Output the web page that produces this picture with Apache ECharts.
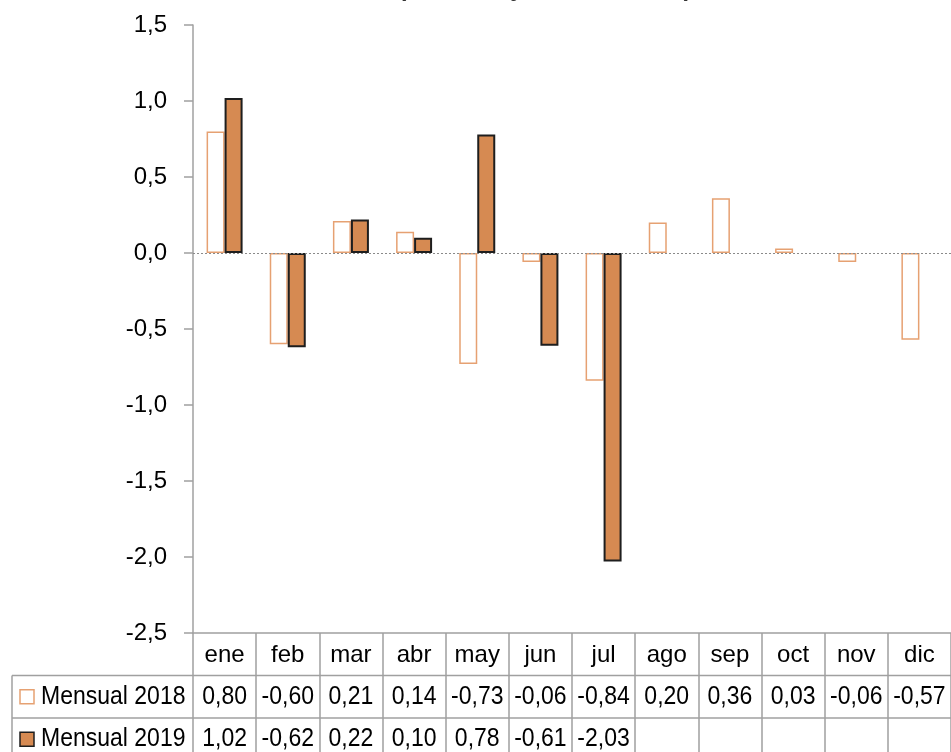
<!DOCTYPE html>
<html>
<head>
<meta charset="utf-8">
<script src="https://cdn.jsdelivr.net/npm/echarts@6/dist/echarts.min.js"></script>
<style>
  html, body { margin: 0; padding: 0; background: #fff; }
  #chart { width: 951px; height: 752px; }
</style>
</head>
<body>
<div id="chart"></div>
<script>
// Monthly variation, 2018 vs 2019
const months = ['ene', 'feb', 'mar', 'abr', 'may', 'jun', 'jul', 'ago', 'sep', 'oct', 'nov', 'dic'];
const mensual2018 = [0.80, -0.60, 0.21, 0.14, -0.73, -0.06, -0.84, 0.20, 0.36, 0.03, -0.06, -0.57];
const mensual2019 = [1.02, -0.62, 0.22, 0.10, 0.78, -0.61, -2.03, null, null, null, null, null];
const seriesNames = ['Mensual 2018', 'Mensual 2019'];
const titleText = '(mensual y acumulada %)';

const FONT = "'Liberation Sans', Arial, sans-serif";
const FS = 23;
const TEXT_STRETCH = 1.1;   // slightly tall lettering in the table
const C2018 = '#E6A172';
const C2019 = '#D68A52';
const GRID_COLOR = '#a0a0a0';

const chart = echarts.init(document.getElementById('chart'), null, { renderer: 'canvas' });

const fmt = (v, d) => v.toFixed(d).replace('.', ',');

const option = {
  animation: false,
  backgroundColor: '#ffffff',
  textStyle: { fontFamily: FONT },
  grid: { left: 193, right: 0, top: 25, bottom: 119 },
  xAxis: {
    type: 'category',
    data: months,
    boundaryGap: true,
    axisLine: { onZero: false, lineStyle: { color: GRID_COLOR, width: 1.5 } },
    axisTick: { show: true, interval: 0, alignWithLabel: false, inside: false, length: 130,
                lineStyle: { color: GRID_COLOR, width: 1.5 } },
    axisLabel: { interval: 0, color: '#000', fontSize: 24, fontFamily: FONT, margin: 10 },
    splitLine: { show: false }
  },
  yAxis: {
    type: 'value',
    min: -2.5, max: 1.5, interval: 0.5,
    axisLine: { show: true, lineStyle: { color: GRID_COLOR, width: 1.5 } },
    axisTick: { show: true, length: 9, lineStyle: { color: GRID_COLOR, width: 1.5 } },
    axisLabel: { color: '#000', fontSize: 24, fontFamily: FONT, margin: 26,
                 formatter: v => fmt(v, 1) },
    splitLine: { show: false }
  },
  series: [
    {
      name: seriesNames[0],
      type: 'bar',
      data: mensual2018,
      barWidth: 18,
      barGap: '0%',
      itemStyle: { color: '#ffffff', borderColor: C2018, borderWidth: 1.5 },
      markLine: {
        silent: true,
        symbol: 'none',
        label: { show: false },
        lineStyle: { color: '#8a8a8a', type: [2, 2], width: 1 },
        data: [{ yAxis: 0 }]
      }
    },
    {
      name: seriesNames[1],
      type: 'bar',
      data: mensual2019,
      barWidth: 18,
      barGap: '0%',
      itemStyle: { color: C2019, borderColor: '#1e1e1e', borderWidth: 2 }
    }
  ]
};

chart.setOption(option);

// Data table under the category axis, laid out from the axis scales
function buildTable() {
  const yAxisBottom = chart.convertToPixel({ yAxisIndex: 0 }, -2.5);
  const tableRight = chart.getWidth();
  const rowH = 42.5;
  const legendLeft = 12;
  const row1Top = yAxisBottom + rowH;      // first data row
  const row2Top = yAxisBottom + 2 * rowH;  // second data row

  const els = [];
  const lineStyle = { stroke: GRID_COLOR, lineWidth: 1.5 };
  [row1Top, row2Top].forEach(y => {
    els.push({ type: 'line', shape: { x1: legendLeft, y1: y, x2: tableRight, y2: y }, style: lineStyle, silent: true });
  });
  els.push({ type: 'line', shape: { x1: legendLeft, y1: row1Top, x2: legendLeft, y2: chart.getHeight() + 10 }, style: lineStyle, silent: true });

  const cellText = (text, x, y, align) => ({
    type: 'text',
    x: x, y: y,
    scaleY: TEXT_STRETCH,
    style: { text: text, font: FS + 'px ' + FONT, fill: '#000', textAlign: align, textVerticalAlign: 'middle' },
    silent: true
  });

  const rows = [mensual2018, mensual2019];
  rows.forEach((vals, r) => {
    const cy = row1Top + r * rowH + rowH / 2;
    // legend key + name
    els.push({
      type: 'rect',
      shape: { x: 20, y: cy - 7, width: 14, height: 14 },
      style: r === 0 ? { fill: '#fff', stroke: C2018, lineWidth: 1.5 } : { fill: C2019, stroke: '#1e1e1e', lineWidth: 1.5 },
      silent: true
    });
    els.push(cellText(seriesNames[r], 41, cy, 'left'));
    vals.forEach((v, i) => {
      if (v === null) return;
      const cx = chart.convertToPixel({ xAxisIndex: 0 }, i);
      els.push(cellText(fmt(v, 2), cx, cy, 'center'));
    });
  });

  // title, mostly above the visible area
  els.push({
    type: 'text',
    x: 545, y: -11,
    style: { text: titleText, font: 'bold 24px ' + FONT, fill: '#333', textAlign: 'center', textVerticalAlign: 'middle' },
    silent: true
  });

  chart.setOption({ graphic: { elements: els } });
}
buildTable();
</script>
</body>
</html>
